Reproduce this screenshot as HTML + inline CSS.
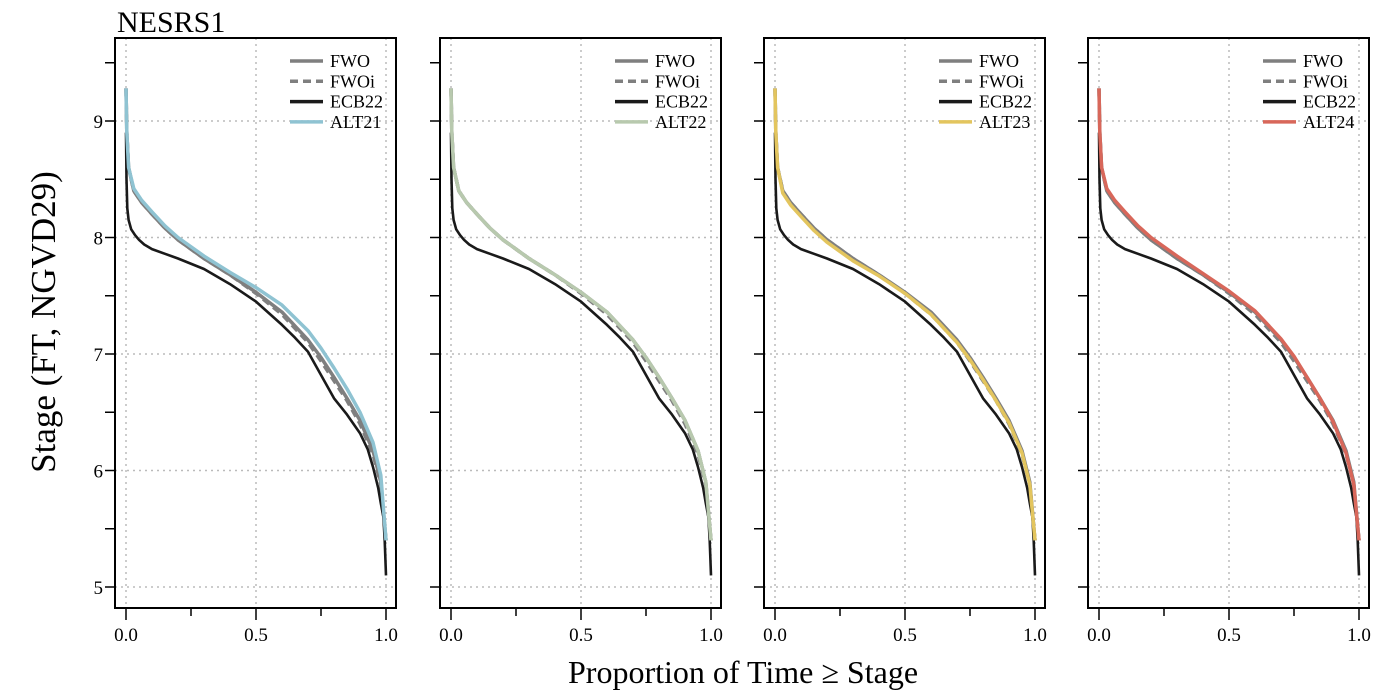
<!DOCTYPE html>
<html><head><meta charset="utf-8"><style>
body{margin:0;background:#fff}
svg{display:block;font-family:"Liberation Serif",serif}
</style></head><body>
<svg id="c" width="1400" height="700"></svg>
<script>
const panelLefts=[115,440,764,1088];
const altNames=["ALT21","ALT22","ALT23","ALT24"];
const altColors=["#8fc3d2","#b8c9ae","#e3c55e","#d8675a"];
const fwoP=[0,0.003,0.01,0.03,0.06,0.1,0.15,0.2,0.3,0.4,0.5,0.6,0.7,0.75,0.8,0.85,0.9,0.95,0.98,1.0];
const fwoS=[9.28,8.9,8.6,8.4,8.3,8.2,8.08,7.98,7.82,7.68,7.53,7.36,7.12,6.97,6.8,6.62,6.43,6.17,5.9,5.4];
const fwoiS=[9.28,8.9,8.6,8.4,8.3,8.2,8.08,7.98,7.82,7.68,7.52,7.34,7.1,6.94,6.77,6.6,6.4,6.14,5.88,5.4];
const ecbP=[0,0.002,0.005,0.01,0.02,0.035,0.05,0.07,0.1,0.15,0.2,0.3,0.4,0.5,0.6,0.65,0.7,0.75,0.8,0.85,0.9,0.93,0.95,0.97,0.98,0.99,0.995,1.0];
const ecbS=[8.9,8.5,8.25,8.15,8.07,8.02,7.98,7.94,7.9,7.86,7.82,7.73,7.6,7.45,7.25,7.14,7.02,6.82,6.62,6.48,6.32,6.18,6.03,5.85,5.72,5.6,5.4,5.1];
const altS=[
[9.28,8.9,8.6,8.42,8.32,8.22,8.1,8.0,7.84,7.7,7.57,7.42,7.2,7.05,6.88,6.7,6.5,6.24,5.96,5.4],
[9.28,8.9,8.6,8.4,8.3,8.2,8.08,7.98,7.82,7.68,7.53,7.36,7.12,6.97,6.8,6.62,6.43,6.17,5.9,5.4],
[9.28,8.9,8.6,8.38,8.28,8.18,8.06,7.96,7.8,7.67,7.52,7.34,7.1,6.95,6.78,6.6,6.41,6.15,5.88,5.4],
[9.28,8.9,8.6,8.42,8.32,8.22,8.1,8.0,7.84,7.69,7.54,7.37,7.13,6.98,6.8,6.62,6.42,6.15,5.88,5.4]];
const xTicks=[0,0.25,0.5,0.75,1];
const xLabels=["0.0","0.5","1.0"];
const yTicks=[5,5.5,6,6.5,7,7.5,8,8.5,9,9.5];
const yLabels=[5,6,7,8,9];
const NS="http://www.w3.org/2000/svg";
const svg=document.getElementById('c');
function mk(t,a,p){const e=document.createElementNS(NS,t);for(const k in a)e.setAttribute(k,a[k]);(p||svg).appendChild(e);return e;}
const W=281,T=38,B=608;
const yS=v=>121+(9-v)*116.5;
for(let i=0;i<4;i++){
 const L=panelLefts[i];
 const xS=v=>L+11+v*260;
 const g=mk('g',{});
 
 
 [0,0.5,1].forEach(v=>mk('line',{x1:xS(v),x2:xS(v),y1:T,y2:B,stroke:'#bbb','stroke-width':1.5,'stroke-dasharray':'2,4'},g));
 [5,6,7,8,9].forEach(v=>mk('line',{x1:L,x2:L+W,y1:yS(v),y2:yS(v),stroke:'#bbb','stroke-width':1.5,'stroke-dasharray':'2,4'},g));
 const line=(P,S,col,w,dash,name)=>{const d=P.map((p,j)=>(j?'L':'M')+xS(p).toFixed(1)+','+yS(S[j]).toFixed(1)).join('');
  const e=mk('path',{d:d,fill:'none',stroke:col,'stroke-width':w,'stroke-linejoin':'round'},g);if(dash)e.setAttribute('stroke-dasharray',dash);
  
  };
 line(fwoP,fwoS,'#7f7f7f',3.5,null,'fwo-line');
 line(fwoP,fwoiS,'#7f7f7f',3.5,'8,5','fwoi-line');
 line(ecbP,ecbS,'#1a1a1a',2.6,null,'ecb22-line');
 line(fwoP,altS[i],altColors[i],3.5,null,altNames[i].toLowerCase()+'-line');
 mk('rect',{x:L,y:T,width:W,height:B-T,fill:'none',stroke:'#000','stroke-width':2},g);
 yTicks.forEach(v=>mk('line',{x1:L-10,x2:L,y1:yS(v),y2:yS(v),stroke:'#000','stroke-width':1.5},g));
 xTicks.forEach(v=>mk('line',{x1:xS(v),x2:xS(v),y1:B,y2:B+(v*2%1===0?12:8),stroke:'#000','stroke-width':1.5},g));
 xLabels.forEach(s=>{const t=mk('text',{x:xS(+s),y:B+33,'text-anchor':'middle','font-size':19},g);t.textContent=s;});
 if(i===0)yLabels.forEach(v=>{const t=mk('text',{x:L-12,y:yS(v)+7,'text-anchor':'end','font-size':19},g);t.textContent=v;});
 const names=["FWO","FWOi","ECB22",altNames[i]],cols=['#7f7f7f','#7f7f7f','#1a1a1a',altColors[i]];
 names.forEach((n,j)=>{const y=61+j*20.3;
  const l=mk('line',{x1:L+W-106,x2:L+W-73,y1:y,y2:y,stroke:cols[j],'stroke-width':3.5},g);
  if(j===1)l.setAttribute('stroke-dasharray','8,5');
  const t=mk('text',{x:L+W-66,y:y+6,'font-size':18},g);t.textContent=n;
  
  });
}
let t=mk('text',{x:117,y:32,'font-size':30});t.textContent='NESRS1';

t=mk('text',{x:0,y:0,'font-size':35,'text-anchor':'middle',transform:'translate(55,322) rotate(-90)'});t.textContent='Stage (FT, NGVD29)';

t=mk('text',{x:743,y:683,'font-size':32,'text-anchor':'middle'});t.textContent='Proportion of Time ≥ Stage';

</script>
</body></html>
